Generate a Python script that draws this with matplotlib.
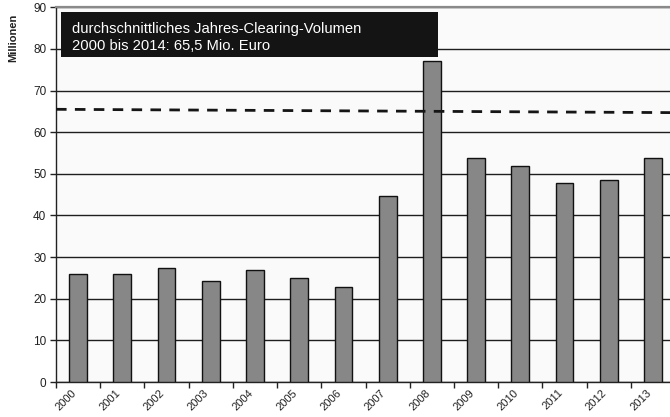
import matplotlib
matplotlib.use("Agg")
import matplotlib.pyplot as plt
from matplotlib.patches import Rectangle
import numpy as np

plt.rcParams['font.family'] = ['Liberation Sans', 'DejaVu Sans']

# Annual clearing volume (million euro)
years = ['2000', '2001', '2002', '2003', '2004', '2005', '2006',
         '2007', '2008', '2009', '2010', '2011', '2012', '2013']
volume = [25.9, 25.9, 27.4, 24.2, 27.0, 24.9, 22.9,
          44.6, 77.2, 53.7, 51.8, 47.8, 48.4, 53.9]

# Average level line, drawn across the whole plot area (left end, right end)
avg_line = [65.5, 64.7]

y_ticks = [0, 10, 20, 30, 40, 50, 60, 70, 80, 90]
y_label = 'Millionen'
box_lines = ['durchschnittliches Jahres-Clearing-Volumen',
             '2000 bis 2014: 65,5 Mio. Euro']

fig = plt.figure(figsize=(6.70, 4.17), dpi=100)
fig.patch.set_facecolor('white')
ax = fig.add_axes([0.0836, 0.0839, 0.924, 0.8986])
ax.set_facecolor('#fafafa')

x = np.arange(len(years))
ax.set_xlim(-0.5, len(years) - 0.5)
ax.set_ylim(0, 90)

# horizontal grid
ax.set_yticks(y_ticks)
ax.yaxis.grid(True, color='#1e1e1e', linewidth=1.0)
ax.set_axisbelow(True)

ax.bar(x, volume, width=0.4, color='#878787', edgecolor='#111111',
       linewidth=1.0, zorder=3)

ax.plot([-0.5, len(years) - 0.5], avg_line, color='#151515', linewidth=2.0,
        dashes=(3.8, 3.0), solid_capstyle='butt', dash_capstyle='butt',
        zorder=4)

# spines
for side in ['right', 'bottom']:
    ax.spines[side].set_visible(side == 'bottom')
ax.spines['top'].set_color('#8a8a8a')
ax.spines['top'].set_linewidth(1.6)
ax.spines['left'].set_color('#222222')
ax.spines['left'].set_linewidth(1.0)
ax.spines['bottom'].set_color('#222222')
ax.spines['bottom'].set_linewidth(1.0)

# y ticks
ax.tick_params(axis='y', direction='out', length=4, width=1.0,
               color='#222222', labelsize=8.5, labelcolor='#222222', pad=3)

# x: labels at category centres, tick marks at category boundaries
ax.set_xticks(x)
ax.set_xticklabels(years, rotation=45, ha='right', va='top',
                   fontsize=8, color='#222222')
ax.tick_params(axis='x', which='major', length=0, pad=4)
ax.set_xticks(np.arange(-0.5, len(years) + 0.5, 1.0), minor=True)
ax.tick_params(axis='x', which='minor', direction='out', length=4,
               width=1.0, color='#222222')

fig.text(0.02, 0.91, y_label, rotation=90, fontsize=8, fontweight='bold',
         ha='center', va='center', color='#222222')

# info box
ax.add_patch(Rectangle((0.008, 0.8674), 0.6086, 0.12, transform=ax.transAxes,
                       facecolor='#141414', edgecolor='none', zorder=6,
                       clip_on=False))
ax.text(0.0258, 0.9306, box_lines[0], transform=ax.transAxes, color='white',
        fontsize=10.6, va='baseline', ha='left', zorder=7)
ax.text(0.0258, 0.886, box_lines[1], transform=ax.transAxes, color='white',
        fontsize=10.6, va='baseline', ha='left', zorder=7)

fig.savefig('out.png', dpi=100, facecolor='white')
